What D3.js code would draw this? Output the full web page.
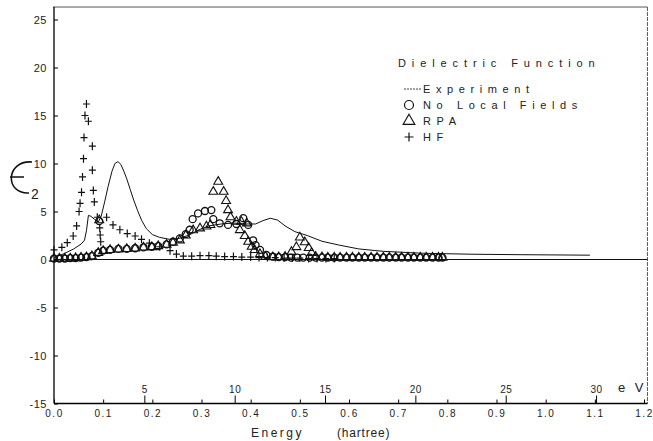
<!DOCTYPE html>
<html>
<head>
<meta charset="utf-8">
<script src="https://cdn.jsdelivr.net/npm/d3@7"></script>
<style>
  body { margin: 0; background: #fff; }
  svg text { font-family: "Liberation Sans", "DejaVu Sans", sans-serif; fill: #222; }
</style>
</head>
<body>
<div id="chart"></div>
<script>
// energy in hartree, eps2 values
const expX = [0.0, 0.02, 0.04, 0.055, 0.062, 0.066, 0.07, 0.075, 0.082, 0.09, 0.096, 0.103, 0.11, 0.118, 0.124, 0.13, 0.136, 0.142, 0.148, 0.155, 0.162, 0.17, 0.178, 0.188, 0.2, 0.215, 0.235, 0.255, 0.275, 0.295, 0.315, 0.34, 0.365, 0.39, 0.41, 0.425, 0.44, 0.455, 0.47, 0.49, 0.515, 0.545, 0.58, 0.62, 0.67, 0.75, 0.85, 0.95, 1.09];
const expY = [0.2, 0.6, 1.1, 1.6, 2.0, 3.0, 4.6, 4.5, 4.2, 3.9, 4.5, 6.0, 7.6, 9.2, 10.0, 10.2, 9.9, 9.2, 8.4, 7.3, 6.2, 5.1, 4.1, 3.2, 2.6, 2.3, 2.1, 2.2, 2.55, 3.1, 3.5, 3.7, 3.8, 3.7, 3.7, 4.05, 4.3, 4.1, 3.5, 2.9, 2.5, 1.9, 1.5, 1.1, 0.85, 0.65, 0.55, 0.5, 0.45];

const nlfX = [0.0, 0.011, 0.022, 0.033, 0.044, 0.055, 0.066, 0.077, 0.09, 0.092, 0.1, 0.114, 0.131, 0.148, 0.165, 0.182, 0.199, 0.212, 0.229, 0.242, 0.256, 0.268, 0.276, 0.282, 0.293, 0.307, 0.32, 0.324, 0.337, 0.354, 0.371, 0.385, 0.395, 0.405, 0.41, 0.419, 0.432, 0.445, 0.457, 0.47, 0.482, 0.495, 0.507, 0.52, 0.532, 0.545, 0.557, 0.57, 0.582, 0.595, 0.607, 0.62, 0.632, 0.645, 0.657, 0.67, 0.682, 0.695, 0.707, 0.72, 0.732, 0.745, 0.757, 0.77, 0.782, 0.79];
const nlfY = [0.1, 0.1, 0.1, 0.15, 0.15, 0.2, 0.25, 0.35, 0.7, 4.0, 0.92, 1.0, 1.1, 1.1, 1.17, 1.27, 1.33, 1.4, 1.58, 1.85, 2.2, 2.65, 3.1, 4.2, 4.8, 5.05, 5.15, 4.2, 3.77, 3.6, 3.7, 4.3, 3.6, 2.0, 1.5, 1.0, 0.47, 0.3, 0.25, 0.25, 0.2, 0.2, 0.2, 0.2, 0.2, 0.2, 0.2, 0.2, 0.2, 0.2, 0.2, 0.2, 0.2, 0.2, 0.2, 0.2, 0.2, 0.2, 0.2, 0.2, 0.2, 0.2, 0.2, 0.2, 0.2, 0.2];

const rpaX = [0.0, 0.011, 0.022, 0.033, 0.044, 0.055, 0.066, 0.077, 0.09, 0.092, 0.1, 0.114, 0.131, 0.148, 0.165, 0.182, 0.199, 0.212, 0.229, 0.242, 0.256, 0.268, 0.283, 0.297, 0.31, 0.318, 0.324, 0.334, 0.345, 0.35, 0.354, 0.359, 0.371, 0.381, 0.392, 0.378, 0.388, 0.395, 0.402, 0.408, 0.419, 0.43, 0.445, 0.457, 0.47, 0.483, 0.493, 0.5, 0.51, 0.518, 0.524, 0.532, 0.545, 0.557, 0.57, 0.582, 0.595, 0.607, 0.62, 0.632, 0.645, 0.657, 0.67, 0.682, 0.695, 0.707, 0.72, 0.732, 0.745, 0.757, 0.77, 0.782, 0.79];
const rpaY = [0.1, 0.1, 0.1, 0.12, 0.15, 0.2, 0.25, 0.35, 0.7, 4.1, 0.9, 1.0, 1.05, 1.1, 1.15, 1.25, 1.3, 1.4, 1.55, 1.75, 2.0, 2.5, 3.05, 3.25, 3.45, 3.6, 7.06, 8.1, 7.06, 6.1, 5.15, 4.4, 3.94, 3.94, 3.77, 3.07, 2.45, 1.85, 1.33, 1.0, 0.57, 0.3, 0.25, 0.25, 0.3, 0.8, 1.3, 2.3, 1.8, 1.2, 0.7, 0.3, 0.25, 0.2, 0.2, 0.2, 0.2, 0.2, 0.2, 0.2, 0.2, 0.2, 0.2, 0.2, 0.2, 0.2, 0.2, 0.2, 0.2, 0.2, 0.2, 0.2, 0.2];

const hfX = [0.0, 0.016, 0.027, 0.039, 0.046, 0.051, 0.053, 0.056, 0.058, 0.06, 0.061, 0.063, 0.066, 0.07, 0.078, 0.078, 0.08, 0.082, 0.088, 0.093, 0.094, 0.095, 0.107, 0.12, 0.134, 0.149, 0.165, 0.178, 0.194, 0.215, 0.236, 0.249, 0.263, 0.28, 0.297, 0.315, 0.33, 0.347, 0.365, 0.382, 0.4, 0.417, 0.434, 0.45, 0.468, 0.485, 0.5, 0.518, 0.535, 0.553, 0.57];
const hfY = [1.0, 1.27, 1.75, 2.45, 3.5, 5.0, 5.85, 7.0, 8.6, 10.5, 12.7, 15.0, 16.2, 14.4, 11.8, 9.3, 7.2, 6.0, 4.4, 3.3, 2.55, 1.85, 4.4, 3.6, 3.1, 2.7, 2.45, 2.1, 1.7, 1.33, 0.92, 0.57, 0.36, 0.35, 0.4, 0.4, 0.35, 0.3, 0.3, 0.25, 0.25, 0.2, 0.2, 0.2, 0.15, 0.15, 0.15, 0.1, 0.1, 0.1, 0.1];

const yTicks = [-15, -10, -5, 0, 5, 10, 15, 20, 25];
const hartreeTicks = [0, 0.1, 0.2, 0.3, 0.4, 0.5, 0.6, 0.7, 0.8, 0.9, 1.0, 1.1, 1.2];
const evTicks = [5, 10, 15, 20, 25, 30];
const legendLabels = ["Experiment", "No Local Fields", "RPA", "HF"];
const HARTREE_EV = 27.2114;

const W = 653, H = 441;
const xMax = 1.207, yTop = 26.3;

const svg = d3.select("#chart").append("svg")
    .attr("width", W).attr("height", H);

const x = d3.scaleLinear().domain([0, 1.2]).range([54, 644]);
const y = d3.scaleLinear().domain([-15, 25]).range([403.5, 19.5]);
const xEv = d3.scaleLinear().domain([0, 1.2 * HARTREE_EV]).range([54, 644]);

// frame (top and right are faint in the scan)
svg.append("line")
    .attr("x1", x(0) - 1).attr("x2", x(xMax))
    .attr("y1", y(yTop)).attr("y2", y(yTop))
    .attr("stroke", "#555").attr("stroke-width", 1);
svg.append("line")
    .attr("x1", x(xMax)).attr("x2", x(xMax))
    .attr("y1", y(yTop)).attr("y2", y(-15))
    .attr("stroke", "#555").attr("stroke-width", 1)
    .attr("stroke-dasharray", "4,1");

// zero line
svg.append("line")
    .attr("x1", x(0)).attr("x2", x(xMax))
    .attr("y1", y(0)).attr("y2", y(0))
    .attr("stroke", "#111").attr("stroke-width", 1);

// left axis, ticks pointing inward
const yAxis = svg.append("g")
    .attr("transform", `translate(${x(0)},0)`)
    .call(d3.axisLeft(y).tickValues(yTicks).tickSize(-4).tickSizeOuter(0)
        .tickPadding(7).tickFormat(d => String(d)));
yAxis.select(".domain").attr("stroke-width", 1.3)
    .attr("d", `M0,${y(yTop)}V${y(-15)}`);
yAxis.selectAll("text").style("font-size", "11px").attr("letter-spacing", "0.5px");

// bottom axis in hartree
const xAxis = svg.append("g")
    .attr("transform", `translate(0,${y(-15)})`)
    .call(d3.axisBottom(x).tickValues(hartreeTicks).tickSize(-4).tickSizeOuter(0)
        .tickPadding(6).tickFormat(d3.format(".1f")));
xAxis.select(".domain").attr("stroke-width", 1.3)
    .attr("d", `M${x(0)},0H${x(xMax)}`);
xAxis.selectAll("text").style("font-size", "10px").attr("letter-spacing", "1.5px");

// eV scale drawn on the same line, labels above
const evAxis = svg.append("g")
    .attr("transform", `translate(0,${y(-15)})`)
    .call(d3.axisTop(xEv).tickValues(evTicks).tickSize(8).tickPadding(3));
evAxis.select(".domain").remove();
evAxis.selectAll("text").style("font-size", "10px").attr("letter-spacing", "0.5px");

svg.append("text")
    .attr("x", 618).attr("y", y(-15) - 12)
    .style("font-size", "13px").attr("letter-spacing", "3px")
    .text("e V");

// axis titles
svg.append("text")
    .attr("x", 251).attr("y", 437)
    .style("font-size", "12px").attr("letter-spacing", "2.5px")
    .text("Energy");
svg.append("text")
    .attr("x", 337).attr("y", 437)
    .style("font-size", "12px").attr("letter-spacing", "0.8px")
    .text("(hartree)");

// epsilon_2 drawn as a glyph
const eps = d3.path();
eps.moveTo(32, 162);
eps.bezierCurveTo(6, 160, 4, 194, 29, 193);
eps.moveTo(10, 177);
eps.lineTo(24, 177);
svg.append("path").attr("d", eps.toString())
    .attr("fill", "none").attr("stroke", "#111").attr("stroke-width", 1.6);
svg.append("text").attr("x", 31).attr("y", 199)
    .style("font-size", "14px").text("2");

// experiment curve
const expData = expX.map((d, i) => [d, expY[i]]);
svg.append("path")
    .datum(expData)
    .attr("fill", "none").attr("stroke", "#111").attr("stroke-width", 1)
    .attr("d", d3.line().x(d => x(d[0])).y(d => y(d[1])));

const g = svg.append("g");

// no local fields: open circles
g.selectAll(".nlf").data(nlfX.map((d, i) => [d, nlfY[i]]))
  .enter().append("circle")
    .attr("class", "nlf")
    .attr("cx", d => x(d[0])).attr("cy", d => y(d[1]))
    .attr("r", 3.5)
    .attr("fill", "none").attr("stroke", "#111").attr("stroke-width", 1.3);

// RPA: open triangles
const tri = d3.symbol().type(d3.symbolTriangle).size(34);
g.selectAll(".rpa").data(rpaX.map((d, i) => [d, rpaY[i]]))
  .enter().append("path")
    .attr("class", "rpa")
    .attr("transform", d => `translate(${x(d[0])},${y(d[1])})`)
    .attr("d", tri)
    .attr("fill", "none").attr("stroke", "#111").attr("stroke-width", 1.1);

// HF: plus signs
const plus = "M-3.5,0H3.5M0,-4V4";
g.selectAll(".hf").data(hfX.map((d, i) => [d, hfY[i]]))
  .enter().append("path")
    .attr("class", "hf")
    .attr("transform", d => `translate(${x(d[0])},${y(d[1])})`)
    .attr("d", plus)
    .attr("fill", "none").attr("stroke", "#111").attr("stroke-width", 1.2);

// legend
const lg = svg.append("g");
lg.append("text").attr("x", 398).attr("y", 67)
    .style("font-size", "11px").attr("letter-spacing", "5.9px")
    .text("Dielectric Function");
const rowY = [89, 105, 121, 137];
lg.selectAll(".lab").data(legendLabels).enter().append("text")
    .attr("class", "lab")
    .attr("x", 423).attr("y", (d, i) => rowY[i] + 4)
    .style("font-size", "11px").attr("letter-spacing", "5.6px")
    .text(d => d);
lg.append("line").attr("x1", 404).attr("x2", 421)
    .attr("y1", rowY[0]).attr("y2", rowY[0])
    .attr("stroke", "#111").attr("stroke-width", 0.8).attr("stroke-dasharray", "2,1");
lg.append("circle").attr("cx", 409).attr("cy", rowY[1]).attr("r", 4.5)
    .attr("fill", "none").attr("stroke", "#111").attr("stroke-width", 1.2);
lg.append("path").attr("transform", `translate(409,${rowY[2]})`)
    .attr("d", d3.symbol().type(d3.symbolTriangle).size(60))
    .attr("fill", "none").attr("stroke", "#111").attr("stroke-width", 1.1);
lg.append("path").attr("transform", `translate(409,${rowY[3]})`)
    .attr("d", "M-4.5,0H4.5M0,-4.5V4.5")
    .attr("fill", "none").attr("stroke", "#111").attr("stroke-width", 1.2);
</script>
</body>
</html>
